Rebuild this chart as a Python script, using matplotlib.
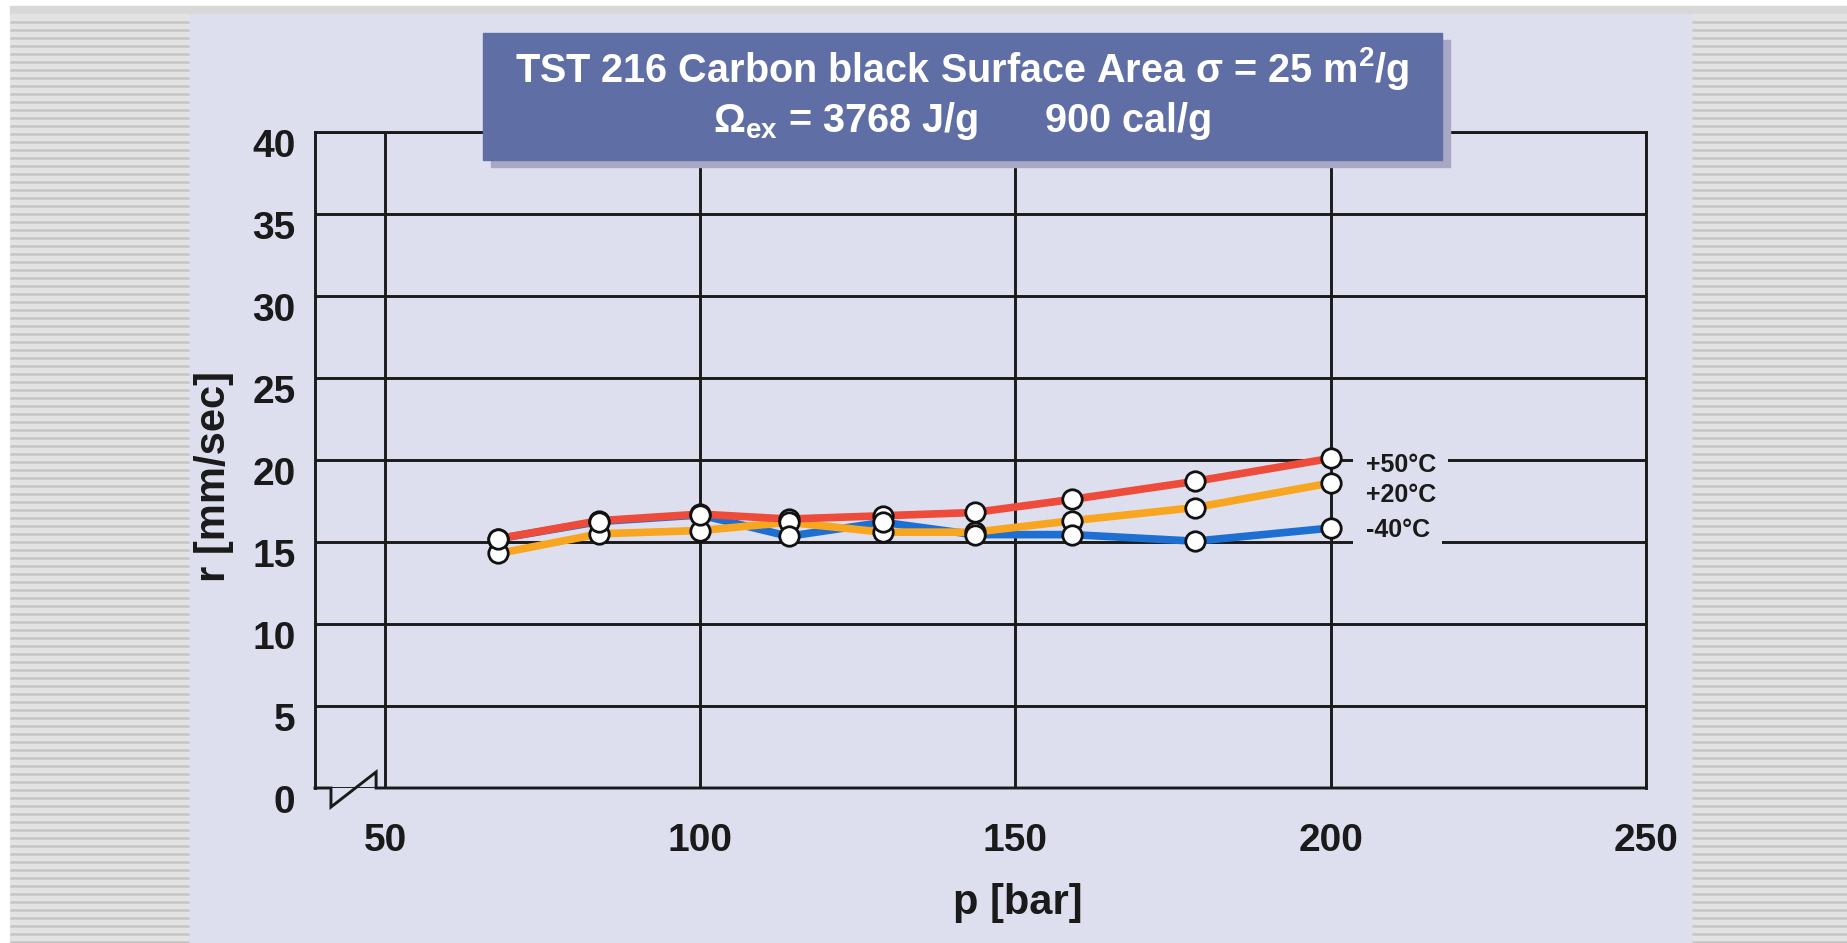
import matplotlib
matplotlib.use("Agg")
import matplotlib.pyplot as plt
import numpy as np
from matplotlib.patches import Rectangle
from matplotlib.transforms import ScaledTranslation

plt.rcParams["font.family"] = ["Liberation Sans", "DejaVu Sans"]
plt.rcParams["mathtext.default"] = "regular"

# burning rate r [mm/sec] over pressure p [bar] at three temperatures
pressure = [68, 84, 100, 114, 129, 143.5, 159, 178.5, 200]
rate_plus50 = [15.2, 16.3, 16.7, 16.4, 16.6, 16.8, 17.6, 18.7, 20.1]
rate_plus20 = [14.3, 15.5, 15.7, 16.2, 15.6, 15.6, 16.3, 17.1, 18.6]
rate_minus40 = [15.2, 16.25, 16.65, 15.35, 16.2, 15.45, 15.45, 15.05, 15.85]
temp_labels = ["+50°C", "+20°C", "-40°C"]

x_ticks = [50, 100, 150, 200, 250]
y_ticks = [0, 5, 10, 15, 20, 25, 30, 35, 40]

title_1 = "TST 216 Carbon black Surface Area σ = 25 m$^2$/g"
title_2 = "Ω$_{ex}$ = 3768 J/g      900 cal/g"

W, H = 1847, 943
panel = "#dedfee"
ink = "#1a1a1a"

fig = plt.figure(figsize=(W / 100, H / 100), dpi=100)
fig.patch.set_facecolor("white")

# page background: striped margins, grey top rule, lavender panel
bg = fig.add_axes([0, 0, 1, 1], zorder=-5)
bg.set_xlim(0, W)
bg.set_ylim(H, 0)
bg.axis("off")
bg.add_patch(Rectangle((10, 6), W - 10, 8, color="#d8d8d8"))
for x0, x1 in [(10, 189), (1692, W)]:
    bg.add_patch(Rectangle((x0, 14), x1 - x0, H - 14, color="#e3e3e3"))
    bg.hlines(np.arange(21.5, H, 8), x0, x1, color="#c5c5c5", linewidth=1.8)
bg.add_patch(Rectangle((189, 14), 1692 - 189, H - 14, color=panel))

ax = fig.add_axes([315 / W, 1 - 788 / H, (1646 - 315) / W, (788 - 132) / H])
ax.set_facecolor("none")
ax.set_xlim(38.9, 250)
ax.set_ylim(0, 40)
ax.set_xticks(x_ticks)
ax.set_yticks(y_ticks)
ax.grid(True, color=ink, linewidth=2.1, zorder=1)
ax.set_axisbelow(True)
ax.tick_params(length=0, labelsize=28, labelcolor=ink)
ax.tick_params(axis="y", pad=14)
ax.tick_params(axis="x", pad=25)
for lab in ax.get_xticklabels() + ax.get_yticklabels():
    lab.set_fontweight("bold")
shift = ScaledTranslation(0, -0.11, fig.dpi_scale_trans)
for lab in ax.get_yticklabels():
    lab.set_transform(lab.get_transform() + shift)

for side in ["top", "left", "right"]:
    ax.spines[side].set_color(ink)
    ax.spines[side].set_linewidth(2.1)
ax.spines["bottom"].set_visible(False)
# bottom axis with break symbol
bx = [0, 0.012, 0.012, 0.0459, 0.0459, 1]
by = [0, 0, -0.029, 0.0244, 0, 0]
ax.plot(bx, by, color=ink, linewidth=2.1, transform=ax.transAxes, clip_on=False,
        solid_joinstyle="miter", zorder=2)

# (values, colour, zorder, label, label offset in pixels)
series = [
    (rate_plus50, "#ee4b3a", 5, temp_labels[0], -7),
    (rate_plus20, "#f8a620", 4, temp_labels[1], -12),
    (rate_minus40, "#1d6fd2", 3, temp_labels[2], -2),
]
for vals, color, z, label, dy in series:
    ax.plot(pressure, vals, color=color, linewidth=5.5, zorder=z,
            solid_capstyle="round")
    ax.plot(pressure, vals, "o", markersize=14, markerfacecolor="white",
            markeredgecolor="#111111", markeredgewidth=2, zorder=8)
    # panel-coloured patch that interrupts the grid behind the label
    ax.annotate(label, xy=(pressure[-1], vals[-1]), xytext=(35, dy),
                textcoords="offset pixels", ha="left", va="center",
                fontsize=18, fontweight="bold", color=panel, zorder=8.5,
                bbox=dict(boxstyle="square,pad=0.5", fc=panel, ec="none"))
    ax.annotate(label, xy=(pressure[-1], vals[-1]), xytext=(35, dy),
                textcoords="offset pixels", ha="left", va="center",
                fontsize=18, fontweight="bold", color=ink, zorder=9)

fig.text(214 / W, 1 - 477 / H, "r [mm/sec]", rotation=90, ha="center",
         va="center", fontsize=30, fontweight="bold", color=ink)
fig.text(1018 / W, 1 - 903 / H, "p [bar]", ha="center", va="center",
         fontsize=30, fontweight="bold", color=ink)

# title box with drop shadow, above the frame
top = fig.add_axes([0, 0, 1, 1], zorder=10)
top.set_xlim(0, W)
top.set_ylim(H, 0)
top.axis("off")
top.add_patch(Rectangle((491, 40), 959, 127, color="#a9a8c4"))
top.add_patch(Rectangle((483, 33), 959, 127, color="#5f6fa5"))
top.text(962, 82, title_1, ha="center", va="baseline", fontsize=28.5,
         fontweight="bold", color="white")
top.text(962, 132, title_2, ha="center", va="baseline", fontsize=28.5,
         fontweight="bold", color="white")

fig.savefig("out.png", dpi=100)
